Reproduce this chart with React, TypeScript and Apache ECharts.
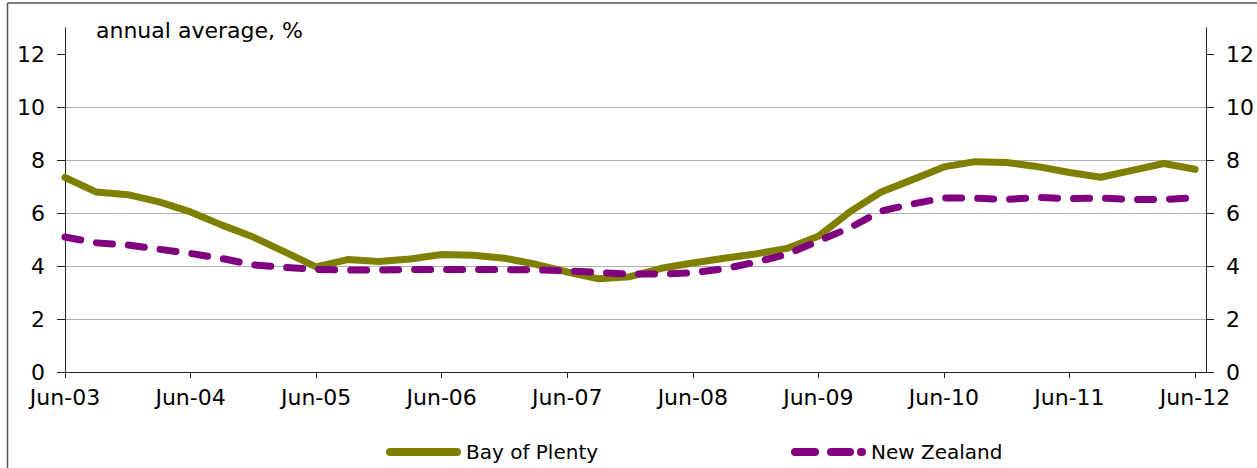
import React, { useEffect, useRef } from "react";
import * as echarts from "echarts";

const quarterMonths = ["Jun", "Sep", "Dec", "Mar"];
const startYear = 2003;
const quarterCount = 37;
const quarters: string[] = [];
for (let i = 0; i < quarterCount; i++) {
  const m = quarterMonths[i % 4];
  const y = startYear + Math.floor(i / 4) + (i % 4 === 3 ? 1 : 0);
  quarters.push(m + "-" + String(y % 100).padStart(2, "0"));
}

const bayOfPlenty = [
  7.35, 6.8, 6.7, 6.43, 6.05, 5.55, 5.1, 4.54, 3.97, 4.25, 4.18, 4.27, 4.44,
  4.41, 4.3, 4.07, 3.78, 3.52, 3.6, 3.92, 4.12, 4.3, 4.46, 4.67, 5.13, 6.05,
  6.8, 7.27, 7.75, 7.95, 7.92, 7.76, 7.54, 7.36, 7.62, 7.88, 7.66,
];
const newZealand = [
  5.1, 4.88, 4.8, 4.64, 4.48, 4.29, 4.05, 3.95, 3.88, 3.85, 3.85, 3.87, 3.87,
  3.87, 3.87, 3.86, 3.82, 3.76, 3.7, 3.7, 3.75, 3.9, 4.15, 4.45, 4.95, 5.45,
  6.08, 6.35, 6.58, 6.57, 6.52, 6.6, 6.55, 6.57, 6.52, 6.52, 6.58,
];
const yTicks = [0, 2, 4, 6, 8, 10, 12];
const xTickIdx = [0, 4, 8, 12, 16, 20, 24, 28, 32, 36];
const seriesNames = ["Bay of Plenty", "New Zealand"];
const unitLabel = "annual average, %";

const FONT = "'DejaVu Sans', Verdana, sans-serif";

// legend icon shapes (75 x 8 box)
const capsule = (a: number, b: number) =>
  `M${a + 4},0 H${b - 4} A4,4 0 0 1 ${b - 4},8 H${a + 4} A4,4 0 0 1 ${a + 4},0 Z`;
const solidIcon = "path://" + capsule(0, 75);
const dashIcon =
  "path://" + capsule(0, 28) + " " + capsule(36, 63) + " " + capsule(66, 75);

export default function App() {
  const ref = useRef<HTMLDivElement>(null);
  useEffect(() => {
    document.body.style.margin = "0";
    const chart = echarts.init(ref.current!, null, { renderer: "svg" });
    const yAxisBase = (position: "left" | "right") => ({
      type: "value",
      position,
      min: 0,
      max: 13,
      interval: 2,
      axisLine: { show: true, lineStyle: { color: "#222", width: 1 } },
      axisTick: {
        show: true,
        length: 8,
        customValues: yTicks,
        lineStyle: { color: "#222" },
      },
      axisLabel: {
        customValues: yTicks,
        color: "#000",
        fontFamily: FONT,
        fontSize: 22,
        margin: 20,
      },
      splitLine: {
        show: position === "left",
        showMaxLine: false,
        lineStyle: { color: "#b0b0b0", width: 1 },
      },
    });
    const legendBase = {
      top: 437,
      itemWidth: 75,
      itemHeight: 8,
      itemStyle: { borderWidth: 0 },
      textStyle: { fontFamily: FONT, fontSize: 20, color: "#000" },
    };
    chart.setOption({
      animation: false,
      backgroundColor: "#fff",
      textStyle: { fontFamily: FONT },
      grid: { left: 65, right: 49, top: 28, bottom: 96, containLabel: false },
      xAxis: {
        type: "value",
        min: 0,
        max: 36.35,
        axisLine: { show: true, onZero: false, lineStyle: { color: "#222" } },
        axisTick: {
          show: true,
          length: 6,
          customValues: xTickIdx,
          lineStyle: { color: "#222" },
        },
        axisLabel: {
          customValues: xTickIdx,
          formatter: (v: number) => quarters[Math.round(v)] ?? "",
          color: "#000",
          fontFamily: FONT,
          fontSize: 22,
          margin: 14,
        },
        splitLine: { show: false },
      },
      yAxis: [yAxisBase("left"), yAxisBase("right")],
      legend: [
        {
          ...legendBase,
          left: 381,
          data: [{ name: seriesNames[0], icon: solidIcon }],
        },
        {
          ...legendBase,
          left: 786,
          data: [{ name: seriesNames[1], icon: dashIcon }],
        },
      ],
      graphic: [
        {
          type: "text",
          left: 96,
          top: 19,
          style: {
            text: unitLabel,
            fontFamily: FONT,
            fontSize: 22,
            fill: "#000",
          },
        },
        {
          type: "line",
          shape: { x1: 7.5, y1: 3, x2: 7.5, y2: 468 },
          style: { stroke: "#555", lineWidth: 1.5 },
        },
        {
          type: "line",
          shape: { x1: 7.5, y1: 3, x2: 1257, y2: 3 },
          style: { stroke: "#555", lineWidth: 1.5 },
        },
      ],
      series: [
        {
          name: seriesNames[0],
          type: "line",
          symbol: "none",
          data: bayOfPlenty.map((v, i) => [i, v]),
          lineStyle: { color: "#808000", width: 7, cap: "round", join: "round" },
          itemStyle: { color: "#808000" },
        },
        {
          name: seriesNames[1],
          type: "line",
          symbol: "none",
          data: newZealand.map((v, i) => [i, v]),
          lineStyle: {
            color: "#800080",
            width: 7,
            type: [16, 16],
            cap: "round",
            join: "round",
          },
          itemStyle: { color: "#800080" },
        },
      ],
    });
    return () => chart.dispose();
  }, []);
  return <div ref={ref} style={{ width: 1257, height: 468 }} />;
}
